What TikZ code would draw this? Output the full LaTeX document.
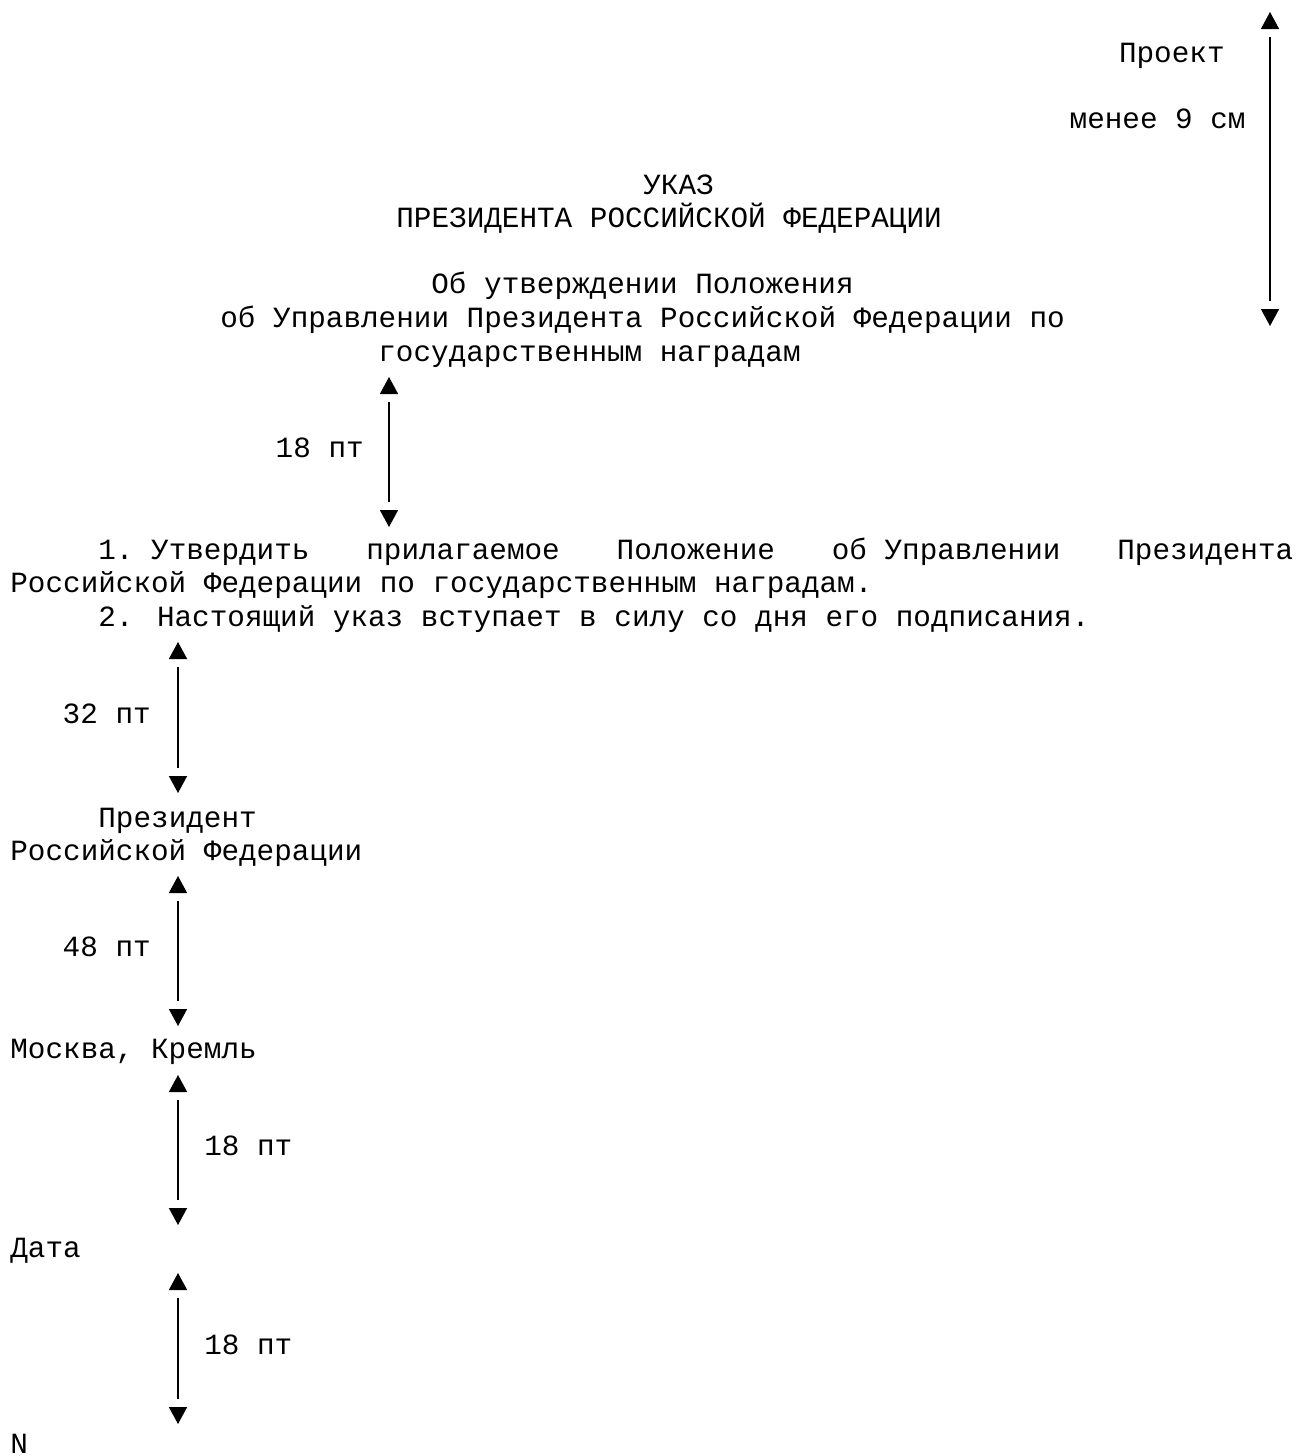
\documentclass[tikz,border=0pt]{standalone}
\usepackage{fontspec}
\setmainfont{Liberation Mono}
\usetikzlibrary{decorations.markings,positioning}

\begin{document}
\begin{tikzpicture}[x=0.5pt, y=-0.5pt,
	main/.style={inner sep=0pt, anchor=base west, font=\fontsize{14.66pt}{16.5pt}\selectfont},
	lbl/.style={inner sep=0pt, font=\fontsize{14.66pt}{16.5pt}\selectfont,
		text height=0.55em, text depth=0pt},
	dim/.style={line width=1.3pt, shorten <=12.5pt, shorten >=12.5pt,
		postaction={decorate}, decoration={markings,
			mark=at position 0 with {\fill (0pt,0pt) -- (8.5pt,4.6pt) -- (8.5pt,-4.6pt) -- cycle;},
			mark=at position 1 with {\fill (0pt,0pt) -- (-8.5pt,4.6pt) -- (-8.5pt,-4.6pt) -- cycle;}}}]
	\useasboundingbox (0,0) rectangle (1296,1456);
	\node[main, anchor=base east] (0) at (1225,62) {Проект};
	\node[main, anchor=base east] (1) at (1246,128) {менее 9 см};
	\node[main] (2) at (643,194) {УКАЗ};
	\node[main] (3) at (396,227) {ПРЕЗИДЕНТА РОССИЙСКОЙ ФЕДЕРАЦИИ};
	\node[main] (4) at (431,293) {Об утверждении Положения};
	\node[main] (5) at (220,327) {об Управлении Президента Российской Федерации по};
	\node[main] (6) at (378,361) {государственным наградам};
	\node[main] (7) at (98,559) {\makebox[597.5pt][s]{1.\kern0.6em Утвердить\hfill прилагаемое\hfill Положение\hfill об\kern0.6em Управлении\hfill Президента}};
	\node[main] (8) at (10,592) {Российской Федерации по государственным наградам.};
	\node[main] (9) at (98,626) {2. Настоящий указ вступает в силу со дня его подписания.};
	\node[main] (10) at (98,827) {Президент};
	\node[main] (11) at (10,860) {Российской Федерации};
	\node[main] (12) at (10,1058) {Москва, Кремль};
	\node[main] (13) at (10,1257) {Дата};
	\node[main] (14) at (10,1453) {N};

	\coordinate (t0) at (1270,12);   \coordinate (b0) at (1270,326);
	\coordinate (t1) at (389,377);   \coordinate (b1) at (389,527);
	\coordinate (t2) at (178,642);   \coordinate (b2) at (178,793);
	\coordinate (t3) at (178,876);   \coordinate (b3) at (178,1026);
	\coordinate (t4) at (178,1075);  \coordinate (b4) at (178,1225);
	\coordinate (t5) at (178,1273);  \coordinate (b5) at (178,1424);
	\draw[dim] (t0) -- (b0);
	\draw[dim] (t1) -- (b1) node[lbl, midway, left=12pt] {18 пт};
	\draw[dim] (t2) -- (b2) node[lbl, midway, left=13pt] {32 пт};
	\draw[dim] (t3) -- (b3) node[lbl, midway, left=13pt] {48 пт};
	\draw[dim] (t4) -- (b4) node[lbl, midway, right=12.5pt] {18 пт};
	\draw[dim] (t5) -- (b5) node[lbl, midway, right=12.5pt] {18 пт};
\end{tikzpicture}
\end{document}
